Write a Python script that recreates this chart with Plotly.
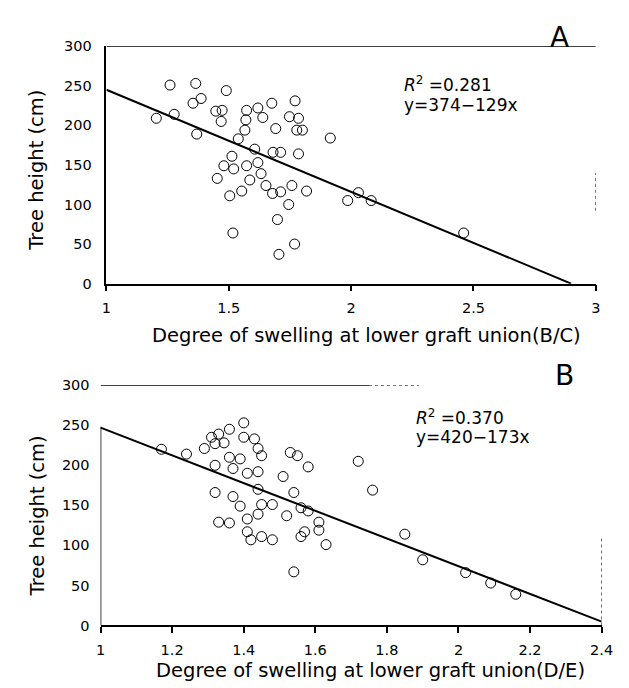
import plotly.graph_objects as go

# ---------------- data ----------------
# Panel A: degree of swelling (B/C) vs tree height
a_x = [1.26, 1.365, 1.387, 1.354, 1.49, 1.204, 1.277, 1.369, 1.447, 1.473, 1.469,
       1.573, 1.619, 1.676, 1.771, 1.639, 1.57, 1.566, 1.539, 1.692, 1.748, 1.785,
       1.778, 1.801, 1.915, 1.606, 1.681, 1.712, 1.785, 1.513, 1.48, 1.52, 1.573,
       1.619, 1.632, 1.586, 1.453, 1.553, 1.504, 1.652, 1.679, 1.712, 1.758, 1.818,
       1.745, 1.699, 1.517, 1.769, 1.705, 1.986, 2.03, 2.082, 2.46]
a_y = [251, 253, 234, 228, 244, 209, 214, 189, 218, 219, 205,
       219, 222, 228, 231, 210, 207, 194, 183, 196, 211, 209,
       194, 194, 184, 170, 166, 166, 164, 161, 149, 145, 149,
       153, 139, 131, 133, 117, 111, 124, 114, 116, 124, 117,
       100, 81, 64, 50, 37, 105, 115, 105, 64]
a_intercept, a_slope = 374, -129
a_r2 = "0.281"

# Panel B: degree of swelling (D/E) vs tree height
b_x = [1.17, 1.24, 1.29, 1.31, 1.33, 1.32, 1.345, 1.36, 1.40, 1.40, 1.43, 1.44,
       1.45, 1.36, 1.39, 1.32, 1.37, 1.41, 1.44, 1.44, 1.53, 1.55, 1.58, 1.51,
       1.54, 1.32, 1.37, 1.39, 1.45, 1.48, 1.44, 1.52, 1.56, 1.58, 1.41, 1.33,
       1.36, 1.41, 1.42, 1.45, 1.48, 1.57, 1.56, 1.61, 1.61, 1.63, 1.54, 1.72,
       1.76, 1.85, 1.90, 2.02, 2.09, 2.16]
b_y = [220, 214, 221, 235, 239, 227, 228, 245, 253, 235, 233, 221,
       212, 210, 208, 200, 196, 190, 192, 170, 216, 212, 198, 186,
       166, 166, 161, 149, 151, 151, 139, 137, 147, 143, 133, 129,
       128, 117, 107, 111, 107, 117, 111, 129, 119, 101, 67, 205,
       169, 114, 82, 66, 53, 39]
b_intercept, b_slope = 420, -173
b_r2 = "0.370"

a_xticks = [1, 1.5, 2, 2.5, 3]
a_xticktext = ["1", "1.5", "2", "2.5", "3"]
b_xticks = [1, 1.2, 1.4, 1.6, 1.8, 2, 2.2, 2.4]
b_xticktext = ["1", "1.2", "1.4", "1.6", "1.8", "2", "2.2", "2.4"]
y_ticks = [0, 50, 100, 150, 200, 250, 300]

# ---------------- figure ----------------
W, H = 629, 688
FONT = "DejaVu Sans"

def px_x(p):
    return p / W

def px_y(p):
    return 1 - p / H

fig = go.Figure()

marker = dict(symbol="circle-open", size=10, color="black", line=dict(width=1, color="black"))

fig.add_trace(go.Scatter(x=a_x, y=a_y, mode="markers", marker=marker,
                         xaxis="x", yaxis="y", showlegend=False))
a_x_end = -a_intercept / a_slope
fig.add_trace(go.Scatter(x=[1, a_x_end], y=[a_intercept + a_slope * 1, 0], mode="lines",
                         line=dict(color="black", width=2), xaxis="x", yaxis="y",
                         showlegend=False))

fig.add_trace(go.Scatter(x=b_x, y=b_y, mode="markers", marker=marker,
                         xaxis="x2", yaxis="y2", showlegend=False))
fig.add_trace(go.Scatter(x=[1, 2.4], y=[b_intercept + b_slope * 1, b_intercept + b_slope * 2.4],
                         mode="lines", line=dict(color="black", width=2),
                         xaxis="x2", yaxis="y2", showlegend=False))

tickfont = dict(family=FONT, size=14.5, color="black")

common_x = dict(showgrid=False, zeroline=False, ticks="outside", ticklen=6, tickwidth=2,
                tickcolor="black", tickfont=tickfont, showline=True, linecolor="black",
                linewidth=1.5, ticklabelstandoff=4)
common_y = dict(showgrid=False, zeroline=False, ticks="", tickfont=tickfont,
                range=[0, 300], tickvals=y_ticks, ticklabelstandoff=10)

fig.update_layout(
    width=W, height=H,
    margin=dict(l=0, r=0, t=0, b=0),
    paper_bgcolor="white", plot_bgcolor="white",
    xaxis=dict(domain=[px_x(96), px_x(599)], range=[1, 3], tickvals=a_xticks,
               ticktext=a_xticktext, anchor="y", **common_x),
    yaxis=dict(domain=[px_y(274), px_y(31)], anchor="x", showline=True, linecolor="black",
               linewidth=1.5, **common_y),
    xaxis2=dict(domain=[px_x(90), px_x(605)], range=[1, 2.4], tickvals=b_xticks,
                ticktext=b_xticktext, anchor="y2", **common_x),
    yaxis2=dict(domain=[px_y(624), px_y(378)], anchor="x2", showline=False, **common_y),
)

# partial frame lines (as in the scanned figure)
line_solid = dict(color="black", width=1.5)
line_dot = dict(color="black", width=1, dash="dot")
fig.add_shape(type="line", xref="x", yref="y", x0=1, x1=3, y0=300, y1=300, line=line_solid)
fig.add_shape(type="line", xref="x", yref="y", x0=3, x1=3, y0=92, y1=140, line=line_dot)
fig.add_shape(type="line", xref="x2", yref="y2", x0=1, x1=1, y0=0, y1=248, line=line_solid)
fig.add_shape(type="line", xref="x2", yref="y2", x0=1, x1=1.75, y0=300, y1=300, line=line_solid)
fig.add_shape(type="line", xref="x2", yref="y2", x0=1.75, x1=1.89, y0=300, y1=300, line=line_dot)
fig.add_shape(type="line", xref="x2", yref="y2", x0=2.4, x1=2.4, y0=0, y1=110, line=line_dot)

ann_font = dict(family=FONT, size=17, color="black")
title_font = dict(family=FONT, size=19.5, color="black")
ytitle_font = dict(family=FONT, size=19.5, color="black")
panel_font = dict(family=FONT, size=28, color="black")

annotations = [
    # panel letters
    dict(text="A", x=px_x(562), y=px_y(22), xref="paper", yref="paper", showarrow=False,
         font=panel_font, xanchor="center", yanchor="middle"),
    dict(text="B", x=px_x(567), y=px_y(368), xref="paper", yref="paper", showarrow=False,
         font=panel_font, xanchor="center", yanchor="middle"),
    # regression text
    dict(text="<i>R</i><sup>2</sup> =" + a_r2, x=px_x(400), y=px_y(70), xref="paper",
         yref="paper", showarrow=False, font=ann_font, xanchor="left", yanchor="middle"),
    dict(text="y=%d\u2212%dx" % (a_intercept, -a_slope), x=px_x(400), y=px_y(91),
         xref="paper", yref="paper", showarrow=False, font=ann_font, xanchor="left",
         yanchor="middle"),
    dict(text="<i>R</i><sup>2</sup> =" + b_r2, x=px_x(412), y=px_y(411), xref="paper",
         yref="paper", showarrow=False, font=ann_font, xanchor="left", yanchor="middle"),
    dict(text="y=%d\u2212%dx" % (b_intercept, -b_slope), x=px_x(412), y=px_y(431),
         xref="paper", yref="paper", showarrow=False, font=ann_font, xanchor="left",
         yanchor="middle"),
    # axis titles
    dict(text="Degree of swelling at lower graft union(B/C)", x=px_x(363), y=px_y(327),
         xref="paper", yref="paper", showarrow=False, font=title_font,
         xanchor="center", yanchor="middle"),
    dict(text="Degree of swelling at lower graft union(D/E)", x=px_x(367), y=px_y(670),
         xref="paper", yref="paper", showarrow=False, font=title_font,
         xanchor="center", yanchor="middle"),
    dict(text="Tree height (cm)", x=px_x(24), y=px_y(158), xref="paper", yref="paper",
         showarrow=False, font=ytitle_font, textangle=-90, xanchor="center", yanchor="middle"),
    dict(text="Tree height (cm)", x=px_x(25), y=px_y(512), xref="paper", yref="paper",
         showarrow=False, font=ytitle_font, textangle=-90, xanchor="center", yanchor="middle"),
]
fig.update_layout(annotations=annotations)

fig.write_html("out.html")
